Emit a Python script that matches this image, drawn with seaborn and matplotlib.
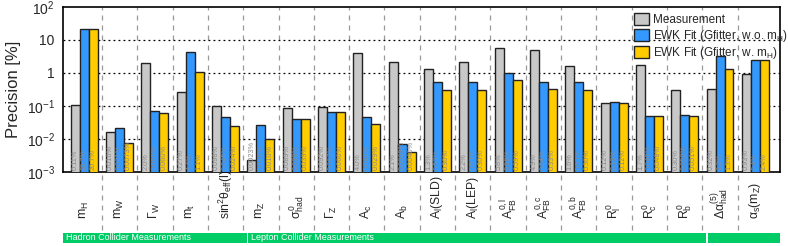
import matplotlib
matplotlib.use("Agg")
import matplotlib.pyplot as plt
import matplotlib.ticker as mticker
import matplotlib.transforms as mtransforms
from matplotlib.patches import Rectangle
import numpy as np
import pandas as pd
import seaborn as sns

# --- data ---
OBSERVABLES = [
    r"$m_H$", r"$m_W$", r"$\Gamma_W$", r"$m_t$", r"sin$^2\theta_{eff}$(l)",
    r"$m_Z$", r"$\sigma^0_{had}$", r"$\Gamma_Z$", r"$A_c$", r"$A_b$",
    r"$A_l$(SLD)", r"$A_l$(LEP)", r"$A^{0,l}_{FB}$", r"$A^{0,c}_{FB}$", r"$A^{0,b}_{FB}$",
    r"$R^0_l$", r"$R^0_c$", r"$R^0_b$", r"$\Delta\alpha^{(5)}_{had}$", r"$\alpha_s(m_Z)$",
]
MEASUREMENT = [0.11, 0.016, 2.0, 0.27, 0.098, 0.0023, 0.089, 0.092, 4.0, 2.1,
               1.3, 2.2, 5.8, 4.9, 1.6, 0.12, 1.7, 0.30, 0.32, 0.93]
FIT_WO_MH = [20.7, 0.021, 0.069, 4.4, 0.045, 0.026, 0.039, 0.067, 0.046, 0.0069,
             0.53, 0.53, 0.98, 0.54, 0.53, 0.13, 0.048, 0.052, 3.2, 2.4]
FIT_W_MH = [20.7, 0.0073, 0.060, 1.1, 0.024, 0.010, 0.039, 0.066, 0.029, 0.0040,
            0.30, 0.30, 0.59, 0.33, 0.30, 0.12, 0.048, 0.051, 1.3, 2.4]

SERIES = ["Measurement", r"EWK Fit (Gfitter, w.o. m$_H$)", r"EWK Fit (Gfitter, w. m$_H$)"]
COLORS = ["#c8c8c8", "#3399ff", "#ffcc00"]

# (label, first category index, last category index)
GROUPS = [("Hadron Collider Measurements", 0, 4),
          ("Lepton Collider Measurements", 5, 17),
          ("", 18, 19)]
GREEN = "#00cc66"

sns.set_style("white")
plt.rcParams["font.family"] = ["Liberation Sans", "DejaVu Sans"]
plt.rcParams["mathtext.fontset"] = "custom"
plt.rcParams["mathtext.rm"] = "Liberation Sans"
plt.rcParams["mathtext.it"] = "Liberation Sans"
plt.rcParams["mathtext.bf"] = "Liberation Sans:bold"


def fmt(v):
    return f"{v:.1f}%" if v >= 10 else f"{v:#.2g}%"


rows = []
for name, vals in zip(SERIES, [MEASUREMENT, FIT_WO_MH, FIT_W_MH]):
    for obs, v in zip(OBSERVABLES, vals):
        rows.append({"Observable": obs, "Precision": v, "Series": name})
df = pd.DataFrame(rows)

fig = plt.figure(figsize=(7.88, 2.46), dpi=100)
ax = fig.add_axes([0.080, 0.301, 0.910, 0.671])

sns.barplot(data=df, x="Observable", y="Precision", hue="Series", order=OBSERVABLES,
            hue_order=SERIES, palette=COLORS, width=0.76, edgecolor="#222222",
            linewidth=1.0, saturation=1, ax=ax, zorder=3)
ax.set_yscale("log")
ax.set_ylim(1e-3, 1e2)
ax.set_xlim(-0.6, len(OBSERVABLES) - 0.3)

# decade grid
ax.yaxis.set_major_locator(mticker.FixedLocator([1e-3, 1e-2, 1e-1, 1, 10, 1e2]))
ax.yaxis.set_major_formatter(mticker.FixedFormatter(
    [r"$10^{-3}$", r"$10^{-2}$", r"$10^{-1}$", "1", "10", r"$10^{2}$"]))
ax.yaxis.set_minor_locator(mticker.NullLocator())
for yv in [1e-2, 1e-1, 1, 10]:
    ax.axhline(yv, color="black", linestyle=(0, (1.5, 2.5)), linewidth=0.9, zorder=1)

# category separators reaching down into the label area
for i in range(len(OBSERVABLES) - 1):
    ax.axvline(i + 0.5, ymin=-0.35, ymax=1, color="#999999", linestyle=(0, (4, 4)),
               linewidth=0.9, zorder=0, clip_on=False)

# values written inside each bar
for cont, vals in zip(ax.containers, [MEASUREMENT, FIT_WO_MH, FIT_W_MH]):
    for bar, v in zip(cont, vals):
        ax.text(bar.get_x() + bar.get_width() / 2, 1.12e-3, fmt(v), rotation=90,
                ha="center", va="bottom", fontsize=5.3, color="#8a8a8a", zorder=5)

ax.set_xlabel("")
ax.set_ylabel("Precision [%]", fontsize=12)
ax.tick_params(axis="y", labelsize=10, length=0, pad=6)
ax.set_xticks(range(len(OBSERVABLES)))
ax.set_xticklabels(OBSERVABLES, rotation=90, va="bottom", ha="center", fontsize=8.8)
ax.tick_params(axis="x", length=0, pad=34)
for s in ax.spines.values():
    s.set_color("black")
    s.set_linewidth(1.2)

# measurement group bands
trans = mtransforms.blended_transform_factory(ax.transData, ax.transAxes)
x0, x1 = ax.get_xlim()
for label, a, b in GROUPS:
    left = x0 if a == 0 else a - 0.5 + 0.15
    right = x1 if b == len(OBSERVABLES) - 1 else b + 0.5 + 0.1
    ax.add_patch(Rectangle((left, -0.43), right - left, 0.06, transform=trans,
                           facecolor=GREEN, edgecolor="none", clip_on=False))
    if label:
        ax.text(left + 0.08, -0.40, label, transform=trans, color="white",
                fontsize=6.5, ha="left", va="center")

leg = ax.legend(loc="upper left", bbox_to_anchor=(0.788, 1.0), frameon=False,
                fontsize=8.5, handlelength=1.3, handleheight=1.2, labelspacing=0.15,
                handletextpad=0.3, borderaxespad=0.1)

fig.savefig("out.png", dpi=100)
